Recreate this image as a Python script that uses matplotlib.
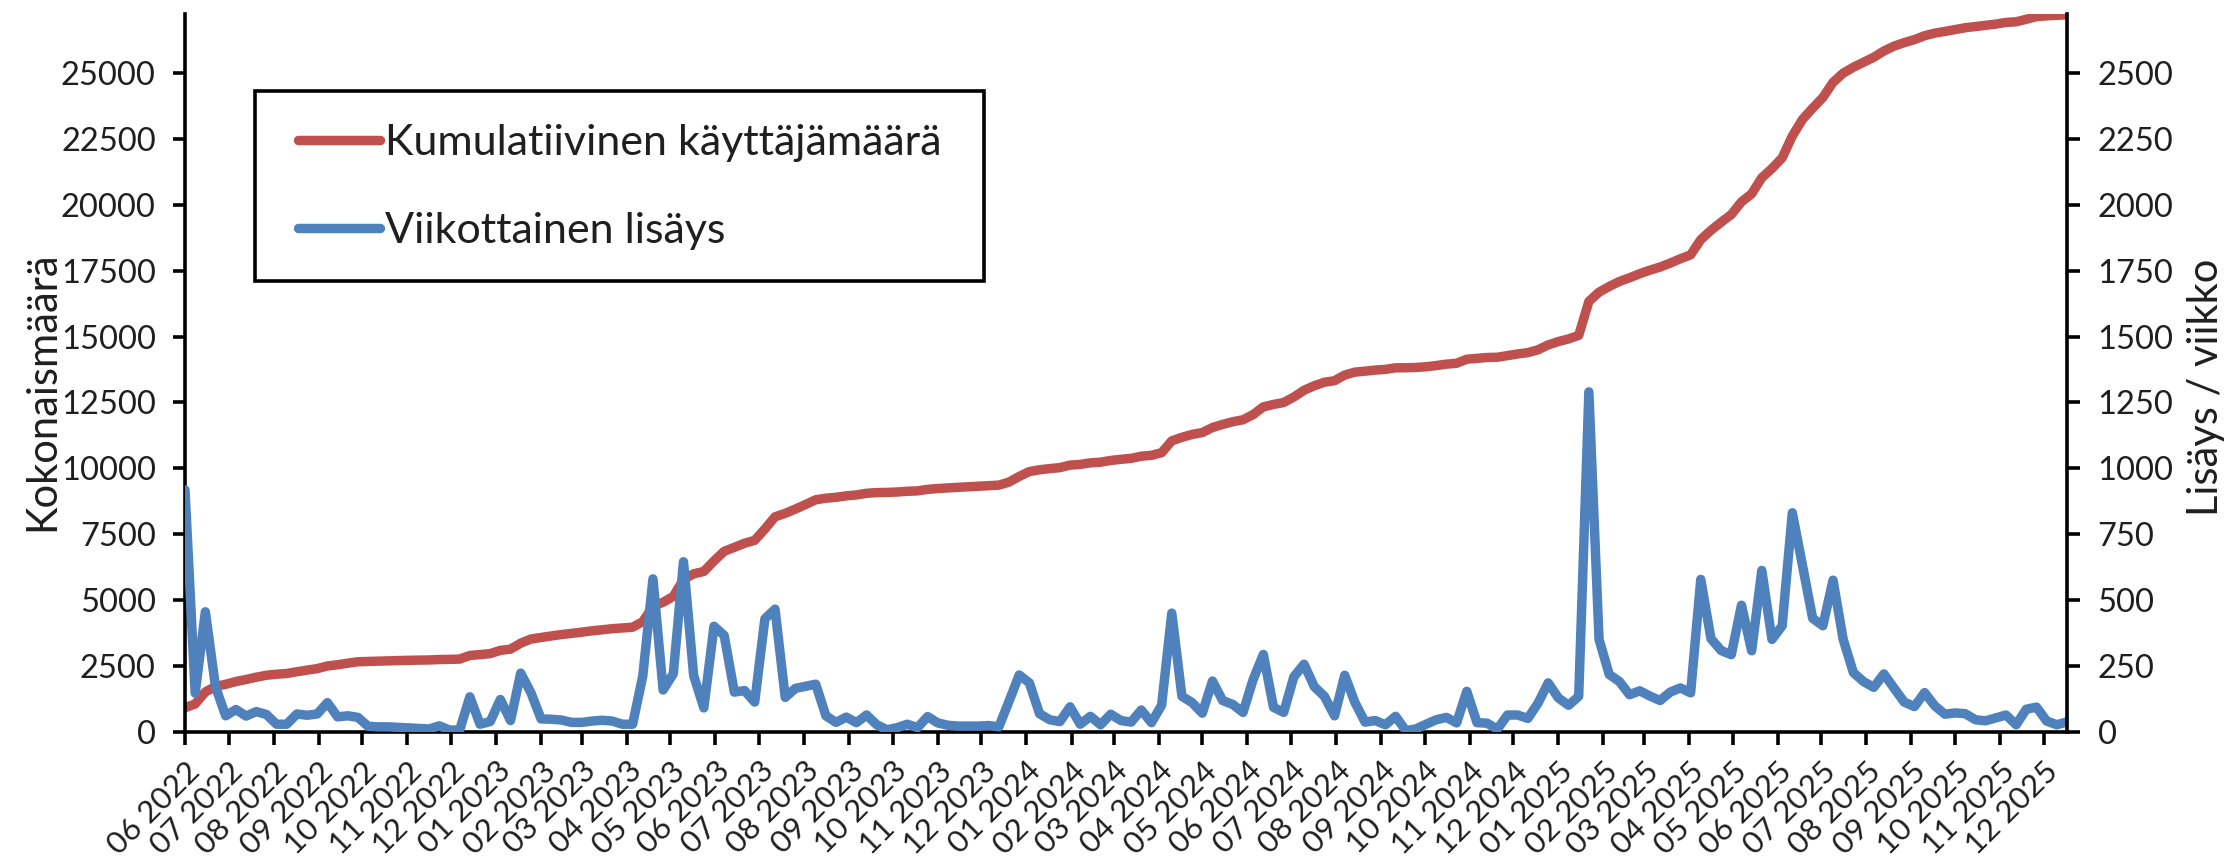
import matplotlib
matplotlib.use('Agg')
import matplotlib.pyplot as plt
import pandas as pd
from matplotlib.patches import Rectangle

plt.rcParams['font.family'] = ['Lato', 'DejaVu Sans']

# ---------------- data ----------------
start_date = '2022-06-01'

weekly_added = [
    918, 146, 455, 170, 60, 84, 59, 76, 65, 28,
    28, 67, 62, 67, 110, 56, 60, 54, 20, 18,
    18, 16, 14, 12, 10, 22, 6, 6, 132, 28,
    38, 122, 42, 222, 148, 48, 47, 44, 35, 35,
    40, 43, 40, 28, 28, 211, 580, 158, 220, 645,
    213, 90, 400, 365, 150, 156, 112, 428, 465, 130,
    164, 172, 180, 60, 35, 55, 34, 63, 26, 7,
    15, 28, 15, 57, 33, 24, 21, 21, 21, 23,
    18, 115, 215, 185, 68, 45, 38, 94, 28, 58,
    26, 66, 42, 36, 82, 34, 100, 450, 134, 110,
    70, 192, 118, 103, 73, 198, 293, 92, 73, 208,
    256, 171, 134, 60, 214, 111, 36, 42, 26, 58,
    4, 10, 28, 45, 54, 33, 153, 34, 32, 9,
    63, 63, 50, 108, 185, 128, 100, 134, 1290, 350,
    217, 190, 140, 155, 135, 118, 150, 166, 147, 578,
    353, 308, 292, 480, 307, 612, 350, 402, 831, 630,
    430, 402, 575, 350, 224, 190, 168, 219, 165, 112,
    95, 148, 98, 66, 71, 68, 45, 41, 52, 63,
    26, 85, 93, 40, 26, 37,
]

cumulative_users = [
    905, 1051, 1506, 1716, 1796, 1900, 1979, 2065, 2140, 2178,
    2206, 2273, 2335, 2392, 2492, 2538, 2598, 2652, 2662, 2675,
    2688, 2699, 2708, 2715, 2720, 2737, 2743, 2754, 2891, 2924,
    2962, 3084, 3131, 3358, 3516, 3574, 3631, 3685, 3730, 3775,
    3825, 3868, 3908, 3936, 3964, 4175, 4755, 4913, 5133, 5778,
    5991, 6081, 6481, 6846, 6996, 7152, 7264, 7692, 8157, 8287,
    8451, 8623, 8803, 8863, 8898, 8953, 8987, 9050, 9076, 9083,
    9098, 9126, 9141, 9198, 9231, 9255, 9276, 9297, 9318, 9341,
    9359, 9474, 9689, 9874, 9942, 9987, 10025, 10119, 10147, 10205,
    10231, 10297, 10339, 10375, 10457, 10491, 10591, 11041, 11175, 11285,
    11355, 11547, 11665, 11768, 11841, 12039, 12332, 12424, 12497, 12705,
    12961, 13132, 13266, 13326, 13540, 13651, 13687, 13729, 13755, 13813,
    13817, 13827, 13855, 13900, 13954, 13987, 14140, 14174, 14206, 14215,
    14278, 14341, 14391, 14499, 14684, 14812, 14912, 15046, 16336, 16686,
    16903, 17093, 17233, 17388, 17523, 17641, 17791, 17957, 18104, 18682,
    19035, 19343, 19635, 20115, 20422, 21034, 21384, 21786, 22617, 23247,
    23677, 24079, 24654, 25004, 25228, 25418, 25606, 25845, 26030, 26162,
    26277, 26425, 26523, 26589, 26660, 26728, 26773, 26814, 26866, 26929,
    26955, 27050, 27150, 27180, 27200, 27220,
]

left_ticks = [0, 2500, 5000, 7500, 10000, 12500, 15000, 17500, 20000, 22500, 25000]
right_ticks = [0, 250, 500, 750, 1000, 1250, 1500, 1750, 2000, 2250, 2500]

label_cum = 'Kumulatiivinen käyttäjämäärä'
label_week = 'Viikottainen lisäys'
ylabel_left = 'Kokonaismäärä'
ylabel_right = 'Lisäys / viikko'

dates = pd.date_range(start_date, periods=len(weekly_added), freq='7D')
month_ticks = pd.date_range('2022-06-01', '2025-12-01', freq='MS')
month_labels = [d.strftime('%m %Y') for d in month_ticks]

# ---------------- figure ----------------
W, H = 2230, 859
fig = plt.figure(figsize=(W / 100, H / 100), dpi=100)
left, right, top, bottom = 185, 2067, 14, 731.6
ax = fig.add_axes([left / W, 1 - bottom / H, (right - left) / W, (bottom - top) / H])

red = '#C0504D'
blue = '#4F81BD'
txt = '#1f1f1f'

l1, = ax.plot(dates, cumulative_users, color=red, lw=6.8,
              solid_joinstyle='round', solid_capstyle='round', label=label_cum)
ax2 = ax.twinx()
l2, = ax2.plot(dates, weekly_added, color=blue, lw=6.8,
               solid_joinstyle='round', solid_capstyle='round', label=label_week)

ax.set_xlim(dates[0], dates[-1])
ax.set_ylim(0, 27250)
ax2.set_ylim(0, 2725)
ax.set_yticks(left_ticks)
ax.set_yticklabels([str(v) for v in left_ticks])
ax2.set_yticks(right_ticks)
ax2.set_yticklabels([str(v) for v in right_ticks])
ax.set_xticks(month_ticks)
ax.set_xticklabels(month_labels, rotation=45, ha='right', va='top',
                   rotation_mode='anchor')

for a in (ax, ax2):
    for s in a.spines.values():
        s.set_linewidth(2.6)
        s.set_color('black')
    a.spines['top'].set_visible(False)
ax.spines['right'].set_visible(False)
ax2.spines['left'].set_visible(False)
ax2.spines['bottom'].set_visible(False)

ax.tick_params(axis='y', direction='out', length=9, width=2.6, labelsize=23.5,
               pad=12, colors='black', labelcolor=txt)
ax.tick_params(axis='x', direction='out', length=9, width=2.6, labelsize=22.5,
               pad=9, colors='black', labelcolor=txt)
ax2.tick_params(axis='y', direction='out', length=9, width=2.6, labelsize=23.5,
                pad=13, colors='black', labelcolor=txt)

ax.set_ylabel(ylabel_left, fontsize=30, color=txt)
ax.yaxis.set_label_coords(-0.066, 0.475)
ax2.set_ylabel(ylabel_right, fontsize=30, color=txt, rotation=90)
ax2.yaxis.set_label_coords(1.064, 0.48)

# legend (frame drawn separately to match reference box)
leg = ax2.legend(handles=[l1, l2], loc='center left',
                 bbox_to_anchor=(298 / W, 1 - 187 / H),
                 bbox_transform=fig.transFigure, frameon=False,
                 fontsize=31, handlelength=1.9, handletextpad=0.12,
                 borderpad=0, borderaxespad=0, labelspacing=1.15,
                 labelcolor=txt)
for h in leg.legend_handles:
    h.set_linewidth(6.8)
    h.set_solid_capstyle('round')

fig.add_artist(Rectangle((255 / W, 1 - 281 / H), 729 / W, 190 / H,
                         transform=fig.transFigure, fill=False,
                         edgecolor='black', lw=2.6))

fig.savefig('out.png', dpi=100)
